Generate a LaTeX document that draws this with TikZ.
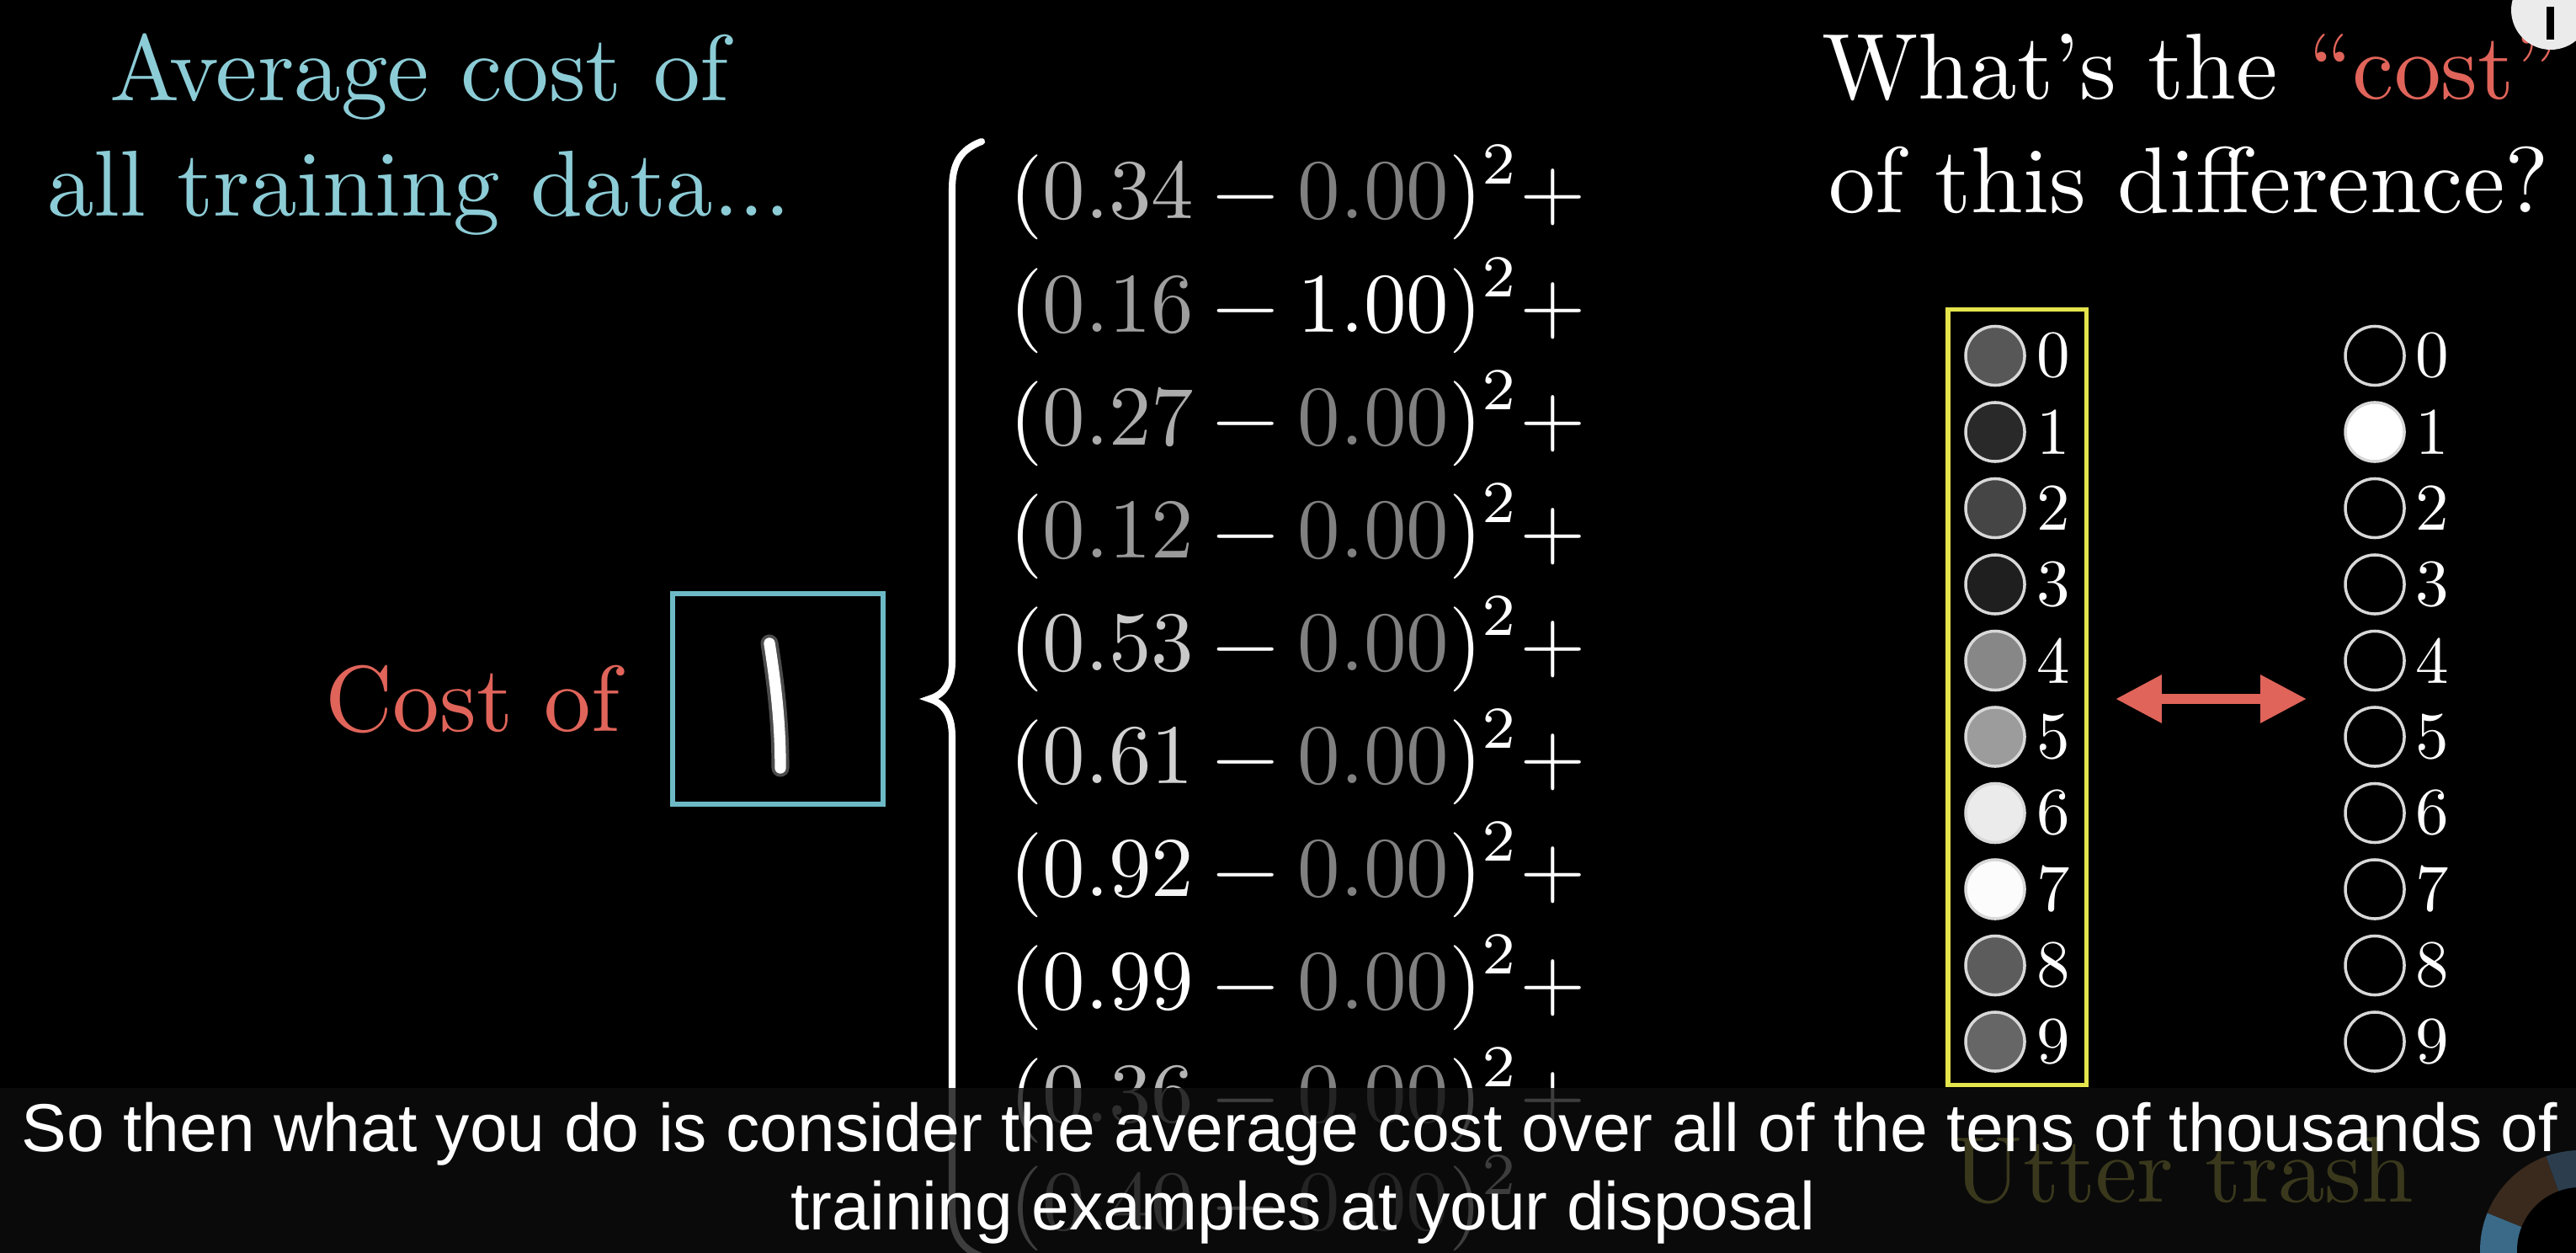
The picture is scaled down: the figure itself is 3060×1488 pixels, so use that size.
\documentclass[tikz,border=0pt]{standalone}
\usepackage{fontspec}
\setmainfont{lmroman10-regular.otf}
\newfontfamily\supfont{lmroman7-regular.otf}
\newfontfamily\subfont{Liberation Sans}
\usetikzlibrary{arrows.meta}
\definecolor{ttl}{HTML}{8CCCD6}
\definecolor{boxc}{HTML}{6DBAC6}
\definecolor{cred}{HTML}{E0645A}
\definecolor{ylw}{HTML}{E4E44C}
\definecolor{uty}{HTML}{F0E65A}
\definecolor{band}{HTML}{0D0D0D}
\definecolor{ring}{HTML}{D8D8D8}
\definecolor{logoblue}{HTML}{3A6A88}
\definecolor{logobrown}{HTML}{3A2A1E}
\definecolor{logoslate}{HTML}{2C3E4E}
\newcommand\sqterm[5]{(\textcolor{white!#2!black}{#1}\hspace{0.222em}−\hspace{0.222em}\textcolor{white!#4!black}{#3})\raisebox{0.413em}{\supfont\fontsize{20.1}{24}\selectfont 2}\hspace{0.05em}#5}
\begin{document}
\begin{tikzpicture}[x=0.01cm,y=-0.01cm,
  bigtxt/.style={inner sep=0pt, font=\fontsize{31.6}{38}\selectfont},
  eqtxt/.style={inner sep=0pt, anchor=base west, text=white, font=\fontsize{28.7}{34}\selectfont},
  digtxt/.style={inner sep=0pt, anchor=west, text=white, font=\fontsize{22.5}{27}\selectfont},
  neuron/.style={circle, draw=ring, line width=1pt, minimum size=0.7cm, inner sep=0pt},
  subtxt/.style={inner sep=0pt, anchor=base, text=white, font=\subfont\fontsize{22.9}{27}\selectfont},
  dbl/.style={cred, line width=3.4pt, {Triangle[length=15.6pt,width=15.4pt]}-{Triangle[length=15.6pt,width=15.4pt]}}
]
\fill[black] (0,0) rectangle (3060,1488);
\useasboundingbox (0,0) rectangle (3060,1488);

% titles
\node[bigtxt, text=ttl, anchor=base] (t1) at (498,120) {Average cost of};
\node[bigtxt, text=ttl, anchor=base] (t2) at (498,257) {all training data...};
\node[bigtxt, text=white, anchor=base] (q1) at (2602,118) {What’s the \textcolor{cred}{“cost”}};
\node[bigtxt, text=white, anchor=base] (q2) at (2600,252) {of this difference?};

% cost of image
\node[bigtxt, text=cred, anchor=base west] (costof) at (386,868) {Cost of};
\node[draw=boxc, line width=1.7pt, minimum size=2.5cm, inner sep=0pt] (img) at (924,830) {};
\draw[line width=6pt, white!30!black, line cap=round] (914,764) .. controls (922,815) and (927,860) .. (927,912);
\draw[line width=3.8pt, white, line cap=round] (914,764) .. controls (922,815) and (927,860) .. (927,912);

% brace
\draw[white, line width=2.3pt, line cap=round] (1166,168) .. controls (1140,178) and (1131,195) .. (1131,225) -- (1131,785) .. controls (1131,815) and (1118,826) .. (1104,830) .. controls (1118,834) and (1131,845) .. (1131,875) -- (1131,1435) .. controls (1131,1465) and (1140,1482) .. (1166,1492);

% equation lines
\foreach \i/\v/\g/\t/\tg in {0/0.34/70/0.00/50, 1/0.16/62/1.00/100, 2/0.27/67/0.00/50, 3/0.12/60/0.00/50, 4/0.53/79/0.00/50, 5/0.61/82/0.00/50, 6/0.92/96/0.00/50, 7/0.99/100/0.00/50, 8/0.36/71/0.00/50}
  \node[eqtxt] (eq\i) at (1199,260+134*\i) {\sqterm{\v}{\g}{\t}{\tg}{+}};
\node[eqtxt] (eq9) at (1199,1460) {\sqterm{0.40}{73}{0.00}{50}{}};

% output layer
\node[draw=ylw, line width=1.45pt, minimum width=1.64cm, minimum height=9.2cm, inner sep=0pt] (ybox) at (2396,828) {};
\foreach \k/\a in {0/34,1/16,2/27,3/12,4/53,5/61,6/92,7/99,8/36,9/40} {
  \node[neuron, fill=white!\a!black] (L\k) at (2370,422.5+90.5*\k) {};
  \node[digtxt] (Ld\k) at (2419,422.5+90.5*\k) {\k};
}
\foreach \k/\f in {0/black,1/white,2/black,3/black,4/black,5/black,6/black,7/black,8/black,9/black} {
  \node[neuron, fill=\f] (R\k) at (2821,422.5+90.5*\k) {};
  \node[digtxt] (Rd\k) at (2869,422.5+90.5*\k) {\k};
}
\coordinate (al) at (2513,830);
\coordinate (ar) at (2740,830);
\draw[dbl] (al) -- (ar);

\node[bigtxt, text=uty, anchor=base west] (utter) at (2319,1427) {Utter trash};

% subtitle band
\fill[band, opacity=0.8] (0,1292) rectangle (3060,1488);

% logo
\fill[logoblue] (3065,1485) -- +(90:119) arc[start angle=90,end angle=202,radius=119] -- cycle;
\fill[logobrown] (3065,1485) -- +(202:119) arc[start angle=202,end angle=250,radius=119] -- cycle;
\fill[logoslate] (3065,1485) -- +(250:119) arc[start angle=250,end angle=290,radius=119] -- cycle;
\fill[black] (3065,1485) circle[radius=75];

\node[subtxt] (s1) at (1532,1367) {So then what you do is consider the average cost over all of the tens of thousands of};
\node[subtxt] (s2) at (1548,1460) {training examples at your disposal};

% info icon
\fill[white!92!black] (3030,12) circle[radius=47];
\fill[black] (3025,8) rectangle (3034,47);
\end{tikzpicture}
\end{document}
